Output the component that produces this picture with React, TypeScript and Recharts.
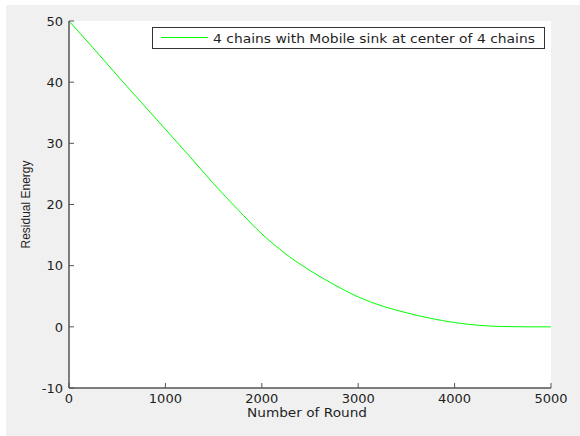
import React from 'react';
import { LineChart, Line, XAxis, YAxis, CartesianGrid, Legend } from 'recharts';

const rounds = [0, 250, 500, 750, 1000, 1250, 1500, 1750, 2000, 2250, 2500, 2750, 3000, 3250, 3500, 3750, 4000, 4250, 4500, 4750, 5000];
const residualEnergy = [50, 45.6, 41.1, 36.7, 32.3, 27.9, 23.4, 19.2, 15.2, 11.9, 9.2, 6.9, 4.9, 3.4, 2.3, 1.4, 0.7, 0.25, 0.05, 0, 0];
const xTicks = [0, 1000, 2000, 3000, 4000, 5000];
const yTicks = [-10, 0, 10, 20, 30, 40, 50];
const seriesName = '4 chains with Mobile sink at center of 4 chains';
const xLabel = 'Number of Round';
const yLabel = 'Residual Energy';

const data = rounds.map((r, i) => ({ round: r, energy: residualEnergy[i] }));

const W = 580;
const H = 436;
const PLOT_LEFT = 69;
const PLOT_TOP = 21;
const PLOT_RIGHT = 551;
const PLOT_BOTTOM = 388;
const TICK_LEN = 5;
const TEXT = '#1f1f1f';
const AXIS = '#555555';
const FONT = '"DejaVu Sans", sans-serif';

const XTick = (props: any) => {
  const { x, payload } = props;
  return (
    <g>
      <line x1={x} x2={x} y1={PLOT_BOTTOM} y2={PLOT_BOTTOM - TICK_LEN} stroke={AXIS} strokeWidth={1} />
      <text x={x} y={403} textAnchor="middle" fontFamily={FONT} fontSize={13} fill={TEXT}>
        {payload.value}
      </text>
    </g>
  );
};

const YTick = (props: any) => {
  const { y, payload } = props;
  return (
    <g>
      <line x1={PLOT_LEFT} x2={PLOT_LEFT + TICK_LEN} y1={y} y2={y} stroke={AXIS} strokeWidth={1} />
      <text x={63} y={y} dy="0.36em" textAnchor="end" fontFamily={FONT} fontSize={13} fill={TEXT}>
        {payload.value}
      </text>
    </g>
  );
};

const renderLegend = () => (
  <svg width={394} height={23} style={{ display: 'block' }}>
    <rect x={0.5} y={0.5} width={392} height={21} fill="#fff" stroke="#333" strokeWidth={1} />
    <line x1={9} x2={56} y1={10.5} y2={10.5} stroke="#00ff00" strokeWidth={1} />
    <text x={61} y={15.5} fontFamily={FONT} fontSize={12.5} fill={TEXT} textLength={322} lengthAdjust="spacingAndGlyphs">
      {seriesName}
    </text>
  </svg>
);

const XLabel = (props: any) => {
  const vb = props.viewBox || {};
  const cx = vb.x + vb.width / 2 - 3;
  return (
    <text x={cx} y={417} textAnchor="middle" fontFamily={FONT} fontSize={13} fill={TEXT} textLength={120} lengthAdjust="spacingAndGlyphs">
      {xLabel}
    </text>
  );
};

const YLabel = (props: any) => {
  const vb = props.viewBox || {};
  const cy = vb.y + vb.height / 2;
  return (
    <text
      x={30}
      y={cy}
      transform={`rotate(-90, 30, ${cy})`}
      textAnchor="middle"
      fontFamily='"Liberation Sans", Arial, sans-serif'
      fontSize={12}
      fill={TEXT}
    >
      {yLabel}
    </text>
  );
};

export default function App() {
  return (
    <div style={{ position: 'absolute', left: 0, top: 0, width: W, height: H, background: '#fff' }}>
      <div style={{ position: 'absolute', left: 6, top: 5, width: W - 6, height: H - 5, background: '#f0f0f0' }} />
      <div style={{ position: 'absolute', left: 0, top: 0 }}>
        <LineChart
          width={W}
          height={H}
          data={data}
          margin={{ top: PLOT_TOP, right: W - PLOT_RIGHT, bottom: 0, left: 0 }}
        >
          <CartesianGrid fill="#ffffff" stroke="none" horizontal={false} vertical={false} />
          <XAxis
            dataKey="round"
            type="number"
            domain={[0, 5000]}
            ticks={xTicks}
            height={H - PLOT_BOTTOM}
            tickLine={false}
            axisLine={{ stroke: AXIS, strokeWidth: 1.5 }}
            tick={<XTick />}
            interval={0}
            label={{ content: <XLabel /> }}
          />
          <YAxis
            type="number"
            domain={[-10, 50]}
            ticks={yTicks}
            width={PLOT_LEFT}
            tickLine={false}
            axisLine={{ stroke: AXIS, strokeWidth: 1.5 }}
            tick={<YTick />}
            interval={0}
            label={{ content: <YLabel /> }}
          />
          <Legend
            layout="horizontal"
            align="center"
            verticalAlign="middle"
            content={renderLegend}
            wrapperStyle={{ position: 'absolute', left: 152, top: 27, width: 394, height: 23, bottom: 'auto', right: 'auto' }}
          />
          <Line
            type="monotone"
            dataKey="energy"
            name={seriesName}
            stroke="#00ff00"
            strokeWidth={1}
            dot={false}
            activeDot={false}
            isAnimationActive={false}
          />
        </LineChart>
      </div>
    </div>
  );
}
